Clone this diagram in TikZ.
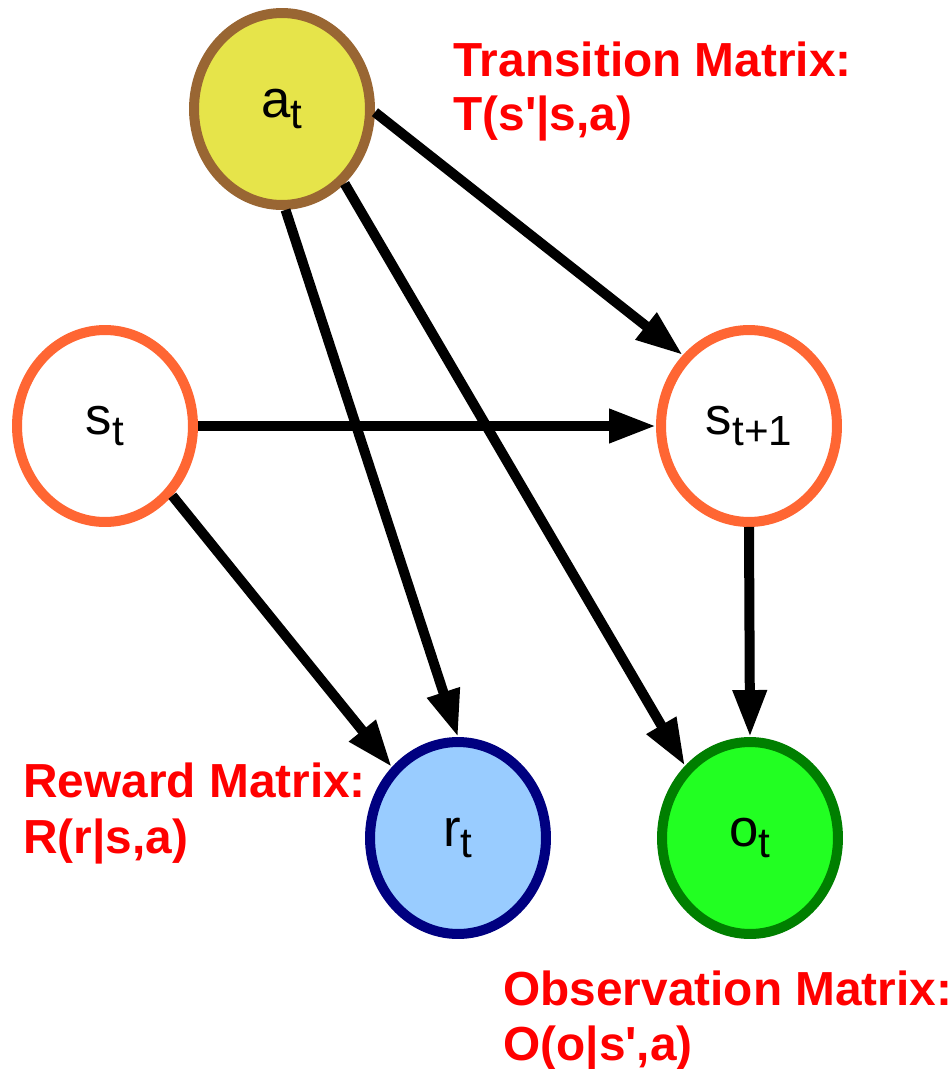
\documentclass[tikz,border=0pt]{standalone}
\usepackage{fontspec}
\setmainfont{Liberation Sans}
\usetikzlibrary{arrows.meta, shapes.geometric}

\definecolor{actbrown}{HTML}{996633}
\definecolor{actyellow}{HTML}{E6E44A}
\definecolor{stateorange}{HTML}{FF6633}
\definecolor{rewardnavy}{HTML}{000080}
\definecolor{rewardblue}{HTML}{99CCFF}
\definecolor{obsgreen}{HTML}{007F00}
\definecolor{obslime}{HTML}{22FF22}

\tikzset{
    var/.style={ellipse, line width=0.2cm, minimum width=3.52cm, minimum height=3.84cm,
        inner sep=0pt, font=\fontsize{30}{36}\selectfont},
    link/.style={->, line width=0.2cm},
    matlabel/.style={anchor=base west, inner sep=0pt, text=red,
        font=\bfseries\fontsize{27.2}{32}\selectfont}
}
\newcommand{\subt}[1]{\raisebox{-6pt}{\fontsize{24}{28}\selectfont #1}}

\begin{document}
\begin{tikzpicture}[x=0.02cm, y=-0.02cm, >={Triangle[length=0.94cm, width=0.64cm]}]
    \useasboundingbox (0,0) rectangle (951,1069);

    % Define the variables
    \node[var, draw=actbrown, fill=actyellow] (At) at (282,109) {a\subt{t}};
    \node[var, draw=stateorange, fill=white] (St) at (105,426) {s\subt{t}};
    \node[var, draw=stateorange, fill=white] (StOne) at (749,426) {s\subt{t+1}};
    \node[var, draw=rewardnavy, fill=rewardblue] (Rt) at (458,838) {r\subt{t}};
    \node[var, draw=obsgreen, fill=obslime] (Ot) at (750,838) {o\subt{t}};

    % Draw the dependencies
    \draw[link] (At.-2) -- (StOne.133);
    \draw[link] (St.0) -- (StOne.180);
    \draw[link] (At.-88) -- (Rt.90);
    \draw[link] (At.-50) -- (Ot.132);
    \draw[link] (St.-46) -- (Rt.133);
    \draw[link] (StOne.-90) -- (Ot.90);

    % Matrix labels
    \node[matlabel] (TransTitle) at (453,76) {Transition Matrix:};
    \node[matlabel] (TransEq) at (453,130) {T(s\textquotesingle|s,a)};
    \node[matlabel] (RewTitle) at (23,797) {Reward Matrix:};
    \node[matlabel] (RewEq) at (23,853) {R(r|s,a)};
    \node[matlabel] (ObsTitle) at (503,1005) {Observation Matrix:};
    \node[matlabel] (ObsEq) at (503,1060) {O(o|s\textquotesingle,a)};

\end{tikzpicture}
\end{document}
